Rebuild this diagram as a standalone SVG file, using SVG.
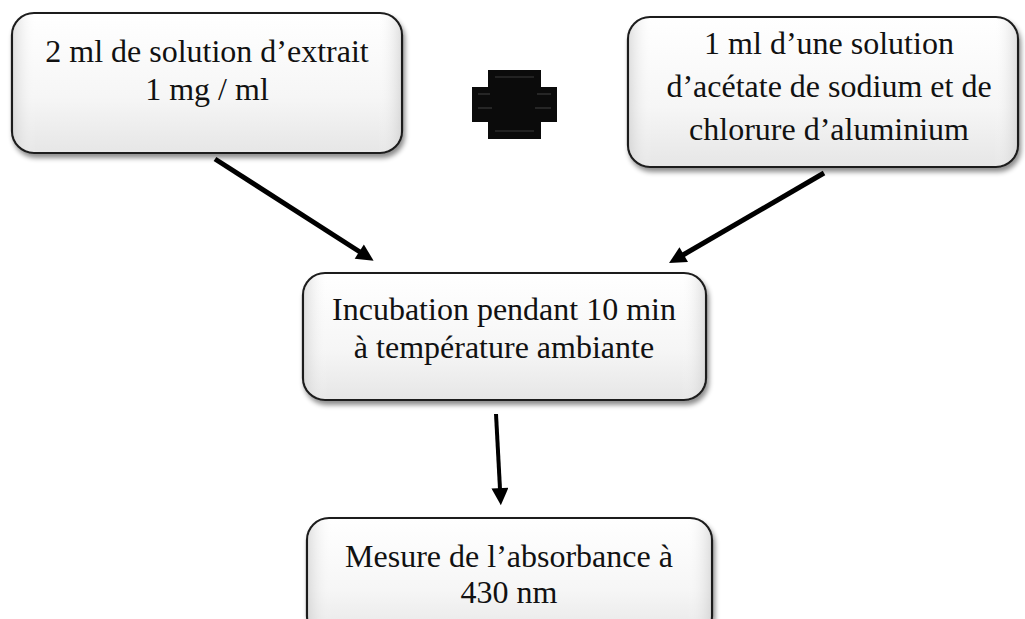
<svg xmlns="http://www.w3.org/2000/svg" width="1025" height="619" viewBox="0 0 1025 619">
  <style>
    .box { fill: url(#boxFill); stroke: #1e1e1e; stroke-width: 2.2; filter: url(#shadow); }
    .bevel { fill: url(#sideShade); stroke: none; }
    .label { font-family: "Liberation Serif", "Times New Roman", serif; font-size: 32px; fill: #111; text-anchor: middle; }
    .link { stroke: #000; stroke-width: 5; fill: none; marker-end: url(#head); }
  </style>
  <defs>
    <linearGradient id="boxFill" x1="0" y1="0" x2="0" y2="1">
      <stop offset="0" stop-color="#ffffff"/>
      <stop offset="0.6" stop-color="#f6f6f6"/>
      <stop offset="1" stop-color="#e6e6e6"/>
    </linearGradient>
    <linearGradient id="sideShade" x1="0" y1="0" x2="1" y2="0">
      <stop offset="0" stop-color="#c8c8c8" stop-opacity="0.55"/>
      <stop offset="0.06" stop-color="#ffffff" stop-opacity="0"/>
      <stop offset="0.94" stop-color="#ffffff" stop-opacity="0"/>
      <stop offset="1" stop-color="#c8c8c8" stop-opacity="0.55"/>
    </linearGradient>
    <filter id="shadow" x="-10%" y="-10%" width="125%" height="130%">
      <feDropShadow dx="2" dy="4" stdDeviation="2.5" flood-color="#000" flood-opacity="0.45"/>
    </filter>
    <!-- head starts at the line end; tip sits 18px further on -->
    <marker id="head" viewBox="0 0 10 10" refX="0.5" refY="5" markerUnits="userSpaceOnUse" markerWidth="18" markerHeight="17" orient="auto">
      <path d="M0,0 L10,5 L0,10 Z" fill="#000"/>
    </marker>
  </defs>

  <!-- connectors -->
  <g id="connectors">
    <line class="link" x1="215" y1="159" x2="360" y2="252"/>
    <line class="link" x1="824" y1="173" x2="683" y2="255"/>
    <line class="link" x1="496" y1="414" x2="500" y2="489" style="stroke-width:4"/>
  </g>

  <g id="node-extrait">
    <rect class="box" x="12" y="13" width="390" height="140" rx="22"/>
    <rect class="bevel" x="13" y="14" width="388" height="138" rx="21"/>
    <text class="label" x="207" y="62">2 ml de solution d’extrait</text>
    <text class="label" x="207" y="100">1 mg / ml</text>
  </g>

  <g id="plus">
    <polygon points="488,70 541,70 541,87 557,87 557,122 541,122 541,139 488,139 488,122 472,122 472,87 488,87" fill="#0b0b0b"/>
    <g stroke="#3a3a3a" stroke-width="1.2">
      <line x1="495" y1="77" x2="534" y2="77"/>
      <line x1="495" y1="131" x2="534" y2="131"/>
      <line x1="478" y1="94" x2="490" y2="94"/>
      <line x1="478" y1="108" x2="492" y2="108"/>
      <line x1="537" y1="94" x2="551" y2="94"/>
      <line x1="535" y1="108" x2="551" y2="108"/>
    </g>
  </g>

  <g id="node-reactif">
    <rect class="box" x="628" y="17" width="390" height="150" rx="22"/>
    <rect class="bevel" x="629" y="18" width="388" height="148" rx="21"/>
    <text class="label" x="829" y="54">1 ml d’une solution</text>
    <text class="label" x="829" y="97">d’acétate de sodium et de</text>
    <text class="label" x="829" y="140">chlorure d’aluminium</text>
  </g>

  <g id="node-incubation">
    <rect class="box" x="303" y="273" width="403" height="127" rx="22"/>
    <rect class="bevel" x="304" y="274" width="401" height="125" rx="21"/>
    <text class="label" x="504" y="320">Incubation pendant 10 min</text>
    <text class="label" x="504" y="358">à température ambiante</text>
  </g>

  <g id="node-mesure">
    <rect class="box" x="307" y="518" width="405" height="120" rx="22"/>
    <rect class="bevel" x="308" y="519" width="403" height="118" rx="21"/>
    <text class="label" x="509" y="567">Mesure de l’absorbance à</text>
    <text class="label" x="509" y="603">430 nm</text>
  </g>
</svg>
